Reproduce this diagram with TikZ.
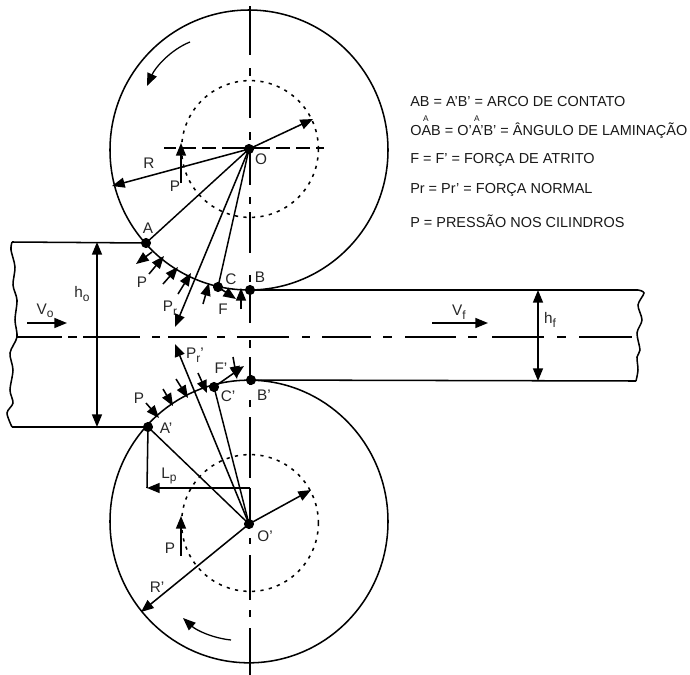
\documentclass[tikz,border=0pt]{standalone}
\usepackage{fontspec}
\setmainfont{Liberation Sans}
\usetikzlibrary{arrows.meta}
\newcommand{\sbs}[1]{\raisebox{-2.6pt}{\fontsize{9pt}{9pt}\selectfont #1}}
\tikzset{
  ln/.style={line width=1.15pt,black},
  thin ln/.style={line width=1.1pt,black},
  arr/.style={ln,-{Triangle[length=9.5pt,width=7.5pt]}},
  arrs/.style={ln,{Triangle[length=9.5pt,width=7.5pt]}-{Triangle[length=9.5pt,width=7.5pt]}},
  dot/.style={circle,fill=black,inner sep=0pt,minimum size=7.6pt},
  lab/.style={inner sep=0pt,font=\fontsize{11.5pt}{13pt}\selectfont,text=black!85},
  leg/.style={inner sep=0pt,anchor=base west,font=\fontsize{10.85pt}{12pt}\selectfont,text=black!90},
  hat/.style={inner sep=0pt,font=\fontsize{6.2pt}{6.5pt}\selectfont,text=black!90},
  axis/.style={ln,line width=1.05pt},
  inner circle/.style={line width=1.15pt,dash pattern=on 2.4pt off 4pt},
}
\begin{document}
\begin{tikzpicture}[x=0.75pt,y=-0.75pt]
\useasboundingbox (0,0) rectangle (690,675);
% rolls
\draw[ln] (249,150) ellipse [x radius=104.25pt,y radius=105pt];
\draw[ln] (249,521.5) ellipse [x radius=104.25pt,y radius=106pt];
\draw[inner circle] (250,149) circle [radius=51.3pt];
\draw[inner circle] (250,523) circle [radius=51.3pt];
% axes
\foreach \a/\b in {6/55,68/76,86/118,132/140,150/185,197/204,212/253,275/282,295/323,340/348,357/385,400/407,417/478,488/524,538/544,555/600,610/617,628/675}
  \draw[axis] (250,\a) -- (250,\b);
\foreach \a/\b in {17/62,68/77,83/140,152/160,168/207,217/225,237/289,302/310,322/371,383/392,405/456,468/477,492/544,557/566,579/632}
  \draw[axis] (\a,337) -- (\b,337);
\foreach \a/\b in {164/176,182/196,202/216,222/250,250/270,276/290,296/310,316/324}
  \draw[axis] (\a,148) -- (\b,148);
% key points
\node[dot] (O) at (249,149) {};
\node[dot] (Op) at (249,524) {};
\node[dot] (A) at (146,243) {};
\node[dot] (B) at (250,290) {};
\node[dot] (C) at (218,287) {};
\node[dot] (Ap) at (148,427) {};
\node[dot] (Bp) at (251,380) {};
\node[dot] (Cp) at (214,387) {};
% strips
\coordinate (Ltop) at (12,242);
\coordinate (Lbot) at (12,427);
\coordinate (Rtop) at (638,290);
\coordinate (Rbot) at (636,381);
\draw[ln] (Ltop) -- (A.center);
\draw[ln] (Lbot) -- (Ap.center);
\draw[ln] (B.center) -- (Rtop);
\draw[ln] (Bp.center) -- (Rbot);
\draw[ln] plot[smooth] coordinates {(12,242) (11,250) (15,267) (13,285) (17,300) (15,320) (17,337) (10,353) (13,370) (10,390) (13,403) (7,413) (12,427)};
\draw[ln] plot[smooth] coordinates {(638,290) (644,293) (638,305) (642,320) (637,333) (640,350) (637,357) (638,370) (636,381)};
% top roll rays
\coordinate (Rend) at (112,186);
\coordinate (Rr) at (313,119);
\coordinate (Prtip) at (175,327);
\draw[arr] (O.center) -- (Rend);
\draw[arr] (O.center) -- (Rr);
\draw[arr] (O.center) -- (Prtip);
\draw[thin ln] (O.center) -- (A.center);
\draw[thin ln] (O.center) -- (C.center);
% bottom roll rays
\coordinate (Rpend) at (141,612);
\coordinate (Rpr) at (311,490);
\coordinate (Pptip) at (175,344);
\coordinate (LpL) at (147,488);
\coordinate (LpR) at (250,488);
\draw[arr] (Op.center) -- (Rpend);
\draw[arr] (Op.center) -- (Rpr);
\draw[arr] (Op.center) -- (Pptip);
\draw[thin ln] (Op.center) -- (Ap.center);
\draw[thin ln] (Op.center) -- (Cp.center);
\draw[ln] (Ap.center) -- (LpL);
\draw[arr] (LpR) -- (LpL);
% rotation arrows
\coordinate (rs) at (190,42);
\coordinate (re) at (147,86);
\coordinate (qs) at (231,640);
\coordinate (qe) at (183,618);
\draw[arr,line width=0.95pt] (rs) .. controls (170,50) and (155,68) .. (re);
\draw[arr,line width=0.95pt] (qs) .. controls (212,638) and (196,630) .. (qe);
% pressure arrows, top
\foreach \n/\fx/\fy/\tx/\ty in {a/149/274/164/256,b/163/284/178/267,c/178/294/191/273,d/203/304/209/283,e/241/309/241/288,f/181/183/181/143}{
  \coordinate (s\n) at (\fx,\fy);
  \coordinate (t\n) at (\tx,\ty);
  \draw[arr] (s\n) -- (t\n);
}
\coordinate (Aout) at (136,264);
\coordinate (Ain) at (152,252);
\draw[arr] (Ain) -- (Aout);
\coordinate (Ftip) at (236,299);
\draw[arr] (C.center) -- (Ftip);
% pressure arrows, bottom
\foreach \n/\fx/\fy/\tx/\ty in {g/146/403/159/418,h/163/389/173/406,i/176/379/188/398,j/198/373/207/393,k/233/357/237/379,l/181/556/181/516}{
  \coordinate (s\n) at (\fx,\fy);
  \coordinate (t\n) at (\tx,\ty);
  \draw[arr] (s\n) -- (t\n);
}
\coordinate (Fptip) at (244,366);
\draw[arr] (Cp.center) -- (Fptip);
% strip arrows
\coordinate (Vos) at (27,323);
\coordinate (Voe) at (67,323);
\coordinate (Vfs) at (432,323);
\coordinate (Vfe) at (488,323);
\draw[arr] (Vos) -- (Voe);
\draw[arr] (Vfs) -- (Vfe);
\coordinate (hot) at (97,242);
\coordinate (hob) at (97,427);
\coordinate (hft) at (538,290);
\coordinate (hfb) at (538,381);
\draw[arrs] (hot) -- (hob);
\draw[arrs] (hft) -- (hfb);
% labels
\node[lab] (lA) at (148,228) {A};
\node[lab] (lB) at (260,277) {B};
\node[lab] (lC) at (231,279) {C};
\node[lab] (lO) at (261,159) {O};
\node[lab] (lR) at (149,163) {R};
\node[lab] (lP1) at (175,186) {P};
\node[lab] (lP2) at (142,282) {P};
\node[lab] (lPr) at (170,308) {P\sbs{r}};
\node[lab] (lF) at (223,309) {F};
\node[lab] (lAp) at (166,428) {A’};
\node[lab] (lBp) at (264,395) {B’};
\node[lab] (lCp) at (228,396) {C’};
\node[lab] (lOp) at (265,536) {O’};
\node[lab] (lRp) at (157,587) {R’};
\node[lab] (lP3) at (139,398) {P};
\node[lab] (lP4) at (170,548) {P};
\node[lab] (lFp) at (221,368) {F’};
\node[lab] (lPp) at (195,355) {P\sbs{r}’};
\node[lab] (lLp) at (169,476) {L\sbs{p}};
\node[lab] (lVo) at (45,311) {V\sbs{o}};
\node[lab] (lho) at (82,294) {h\sbs{o}};
\node[lab] (lVf) at (459,312) {V\sbs{f}};
\node[lab] (lhf) at (550,320) {h\sbs{f}};
% legend
\node[leg] (l1) at (410,106) {AB = A’B’ = ARCO DE CONTATO};
\node[leg] (l2) at (410,135) {OAB = O’A’B’ = ÂNGULO DE LAMINAÇÃO};
\node[leg] (l3) at (410,163) {F = F’ = FORÇA DE ATRITO};
\node[leg] (l4) at (410,193) {Pr = Pr’ = FORÇA NORMAL};
\node[leg] (l5) at (410,227) {P = PRESSÃO NOS CILINDROS};
\node[hat] (h1) at (426,118.5) {A};
\node[hat] (h2) at (477,118.5) {A};
\end{tikzpicture}
\end{document}
